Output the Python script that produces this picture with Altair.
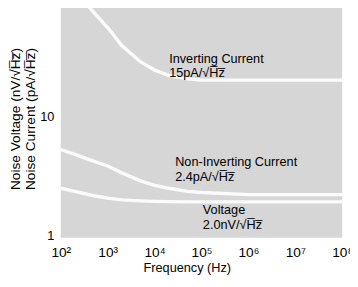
import altair as alt
import pandas as pd

# Frequency points (Hz)
freq = [1e2, 2e2, 5e2, 1e3, 2e3, 5e3, 1e4, 2e4, 5e4, 1e5, 1e6, 1e7, 1e8]
# Noise spectra
inv_current = [170, 120, 78, 58, 41, 30, 25.5, 23, 21.5, 21, 21, 21, 21]      # pA/rtHz
noninv_current = [5.5, 5.0, 4.4, 4.0, 3.5, 3.0, 2.75, 2.6, 2.45, 2.4, 2.3, 2.3, 2.3]  # pA/rtHz
voltage = [2.6, 2.45, 2.25, 2.15, 2.08, 2.04, 2.02, 2.01, 2.0, 2.0, 2.0, 2.0, 2.0]   # nV/rtHz

series_names = ["Inverting Current", "Non-Inverting Current", "Voltage"]

RT = "\u221aH\u0305z\u0305"
label_text = [
    "Inverting Current\n15pA/" + RT,
    "Non-Inverting Current\n2.4pA/" + RT,
    "Voltage\n2.0nV/" + RT,
]
label_freq = [20500, 27500, 107000]
label_val = [29.5, 3.97, 1.57]

x_ticks = [1e2, 1e3, 1e4, 1e5, 1e6, 1e7, 1e8]
y_ticks = [1, 10, 100]

rows = []
for name, vals in zip(series_names, [inv_current, noninv_current, voltage]):
    for f, v in zip(freq, vals):
        rows.append({"series": name, "freq": f, "val": v})
df = pd.DataFrame(rows)
lab = pd.DataFrame({"text": label_text, "freq": label_freq, "val": label_val})

xscale = alt.Scale(type="log", domain=[1e2, 1e8], nice=False)
yscale = alt.Scale(type="log", domain=[1, 100], nice=False)

sup = "['\u2070','\u00b9','\u00b2','\u00b3','\u2074','\u2075','\u2076','\u2077','\u2078']"
x_axis = alt.Axis(
    values=x_ticks,
    labelExpr="'10' + " + sup + "[round(log(datum.value)/LN10)]",
    ticks=False, domain=False, grid=False,
    labelFont="Liberation Sans", labelFontSize=14, labelColor="black",
    labelPadding=8, labelFlush=False, labelOverlap=False,
    title="Frequency (Hz)", titleFont="Liberation Sans", titleFontSize=13,
    titleFontWeight="normal", titleColor="black",
    titleX=129, titleY=35, titleBaseline="alphabetic", titleAnchor="middle",
)
y_axis = alt.Axis(
    values=y_ticks, format="d",
    ticks=False, domain=False, grid=False,
    labelFont="Liberation Sans", labelFontSize=13, labelColor="black",
    labelPadding=7, labelFlush=False, labelOverlap=False, labelOffset=-2,
    title=["Noise Voltage (nV/" + RT + ")", "Noise Current (pA/" + RT + ")"],
    titleFont="Liberation Sans", titleFontSize=14, titleFontWeight="normal",
    titleColor="black", titleLineHeight=15,
    titleX=-46, titleY=122, titleBaseline="middle", titleAnchor="middle",
)

lines = alt.Chart(df).mark_line(color="white", strokeWidth=3.5, opacity=0.9, clip=True).encode(
    x=alt.X("freq:Q", scale=xscale, axis=x_axis),
    y=alt.Y("val:Q", scale=yscale, axis=y_axis),
    detail="series:N",
)

texts = alt.Chart(lab).mark_text(
    align="left", baseline="alphabetic", lineBreak="\n", lineHeight=14.5,
    font="Liberation Sans", fontSize=13, color="black",
).encode(
    x=alt.X("freq:Q", scale=xscale),
    y=alt.Y("val:Q", scale=yscale),
    text="text:N",
)

chart = alt.layer(lines, texts).properties(
    width=288, height=244,
    autosize=alt.AutoSizeParams(type="none"),
    padding={"left": 54, "top": -12, "right": 8, "bottom": 36},
).configure_view(fill="#d6d6d6", strokeWidth=0)

chart.save("out.html", embed_options={"renderer": "svg", "actions": False})
